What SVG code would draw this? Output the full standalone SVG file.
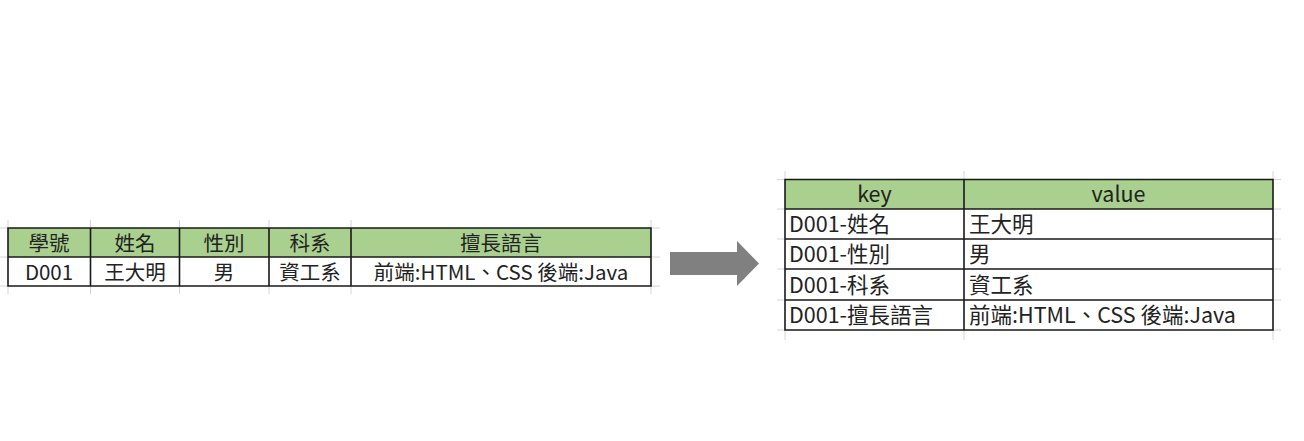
<svg xmlns="http://www.w3.org/2000/svg" width="1304" height="441" viewBox="0 0 1304 441">
<style>
.hdr{fill:#a9d08e}
.cell{fill:#ffffff}
.ln{stroke:#1a1a1a;stroke-width:1.6;fill:none}
.grid{stroke:#d4d4d4;stroke-width:1;fill:none}
text{font-family:"Noto Sans CJK TC","Noto Sans",sans-serif;font-size:21.5px;fill:#222222}
#source-table text{font-size:20.5px}
.c{text-anchor:middle}
</style>
<rect x="0" y="0" width="1304" height="441" fill="#ffffff"/>
<g id="source-table">
  <path class="grid" d="M8,220V228M90.5,220V228M179.5,220V228M269,220V228M351,220V228M651,220V228M8,286V294M90.5,286V294M179.5,286V294M269,286V294M351,286V294M651,286V294M651,228H660M651,257H660M651,286H660M0,228H8M0,257H8M0,286H8"/>
  <rect class="hdr" x="8" y="228" width="643" height="29"/>
  <rect class="cell" x="8" y="257" width="643" height="29"/>
  <path class="ln" d="M8,228H651V286H8ZM8,257H651M90.5,228V286M179.5,228V286M269,228V286M351,228V286"/>
  <text class="c" x="49" y="251">學號</text>
  <text class="c" x="135" y="251">姓名</text>
  <text class="c" x="224" y="251">性別</text>
  <text class="c" x="310" y="251">科系</text>
  <text class="c" x="501" y="251">擅長語言</text>
  <text class="c" x="49" y="280">D001</text>
  <text class="c" x="135" y="280">王大明</text>
  <text class="c" x="224" y="280">男</text>
  <text class="c" x="310" y="280">資工系</text>
  <text class="c" x="501" y="280">前端:HTML、CSS 後端:Java</text>
</g>
<g id="connectors">
  <polygon id="arrow" fill="#808080" points="670,252 737,252 737,241 759,263.5 737,286 737,275 670,275"/>
</g>
<g id="kv-table">
  <path class="grid" d="M785,171V179.5M964,171V179.5M1273,171V179.5M785,330V340M964,330V340M1273,330V340M777,179.5H785M777,209H785M777,239H785M777,269H785M777,300H785M777,330H785M1273,179.5H1281M1273,209H1281M1273,239H1281M1273,269H1281M1273,300H1281M1273,330H1281"/>
  <rect class="hdr" x="785" y="179.5" width="488" height="29.5"/>
  <rect class="cell" x="785" y="209" width="488" height="121"/>
  <path class="ln" d="M785,179.5H1273V330H785ZM785,209H1273M785,239H1273M785,269H1273M785,300H1273M964,179.5V330"/>
  <text class="c" x="874.5" y="202">key</text>
  <text class="c" x="1118.5" y="202">value</text>
  <text x="789" y="232">D001-姓名</text>
  <text x="969" y="232">王大明</text>
  <text x="789" y="262">D001-性別</text>
  <text x="969" y="262">男</text>
  <text x="789" y="292.5">D001-科系</text>
  <text x="969" y="292.5">資工系</text>
  <text x="789" y="323">D001-擅長語言</text>
  <text x="969" y="323">前端:HTML、CSS 後端:Java</text>
</g>
</svg>
